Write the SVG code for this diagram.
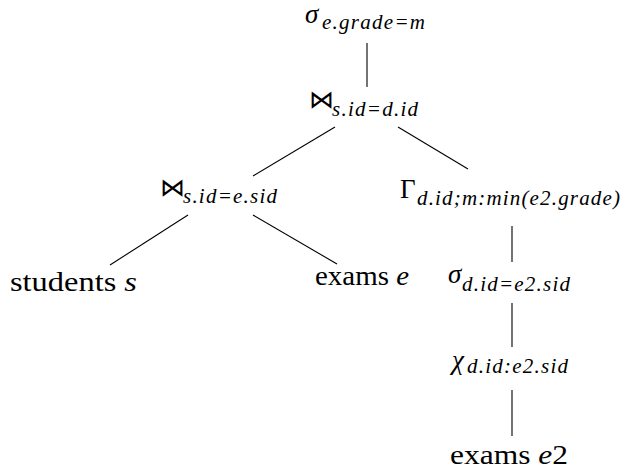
<svg xmlns="http://www.w3.org/2000/svg" width="626" height="473" viewBox="0 0 626 473">
<style>
text{font-family:"Liberation Serif","DejaVu Serif",serif;font-size:27px;fill:#000}
.i{font-style:italic}
.s{font-family:"Liberation Serif","DejaVu Serif",serif;font-style:italic;font-size:21px}
.b{font-family:"DejaVu Sans",sans-serif;font-weight:200;font-size:25px}
line{stroke:#000;stroke-width:1.1}
</style>
<rect width="626" height="473" fill="#fff"/>
<g id="connectors">
<line x1="367" y1="43" x2="367" y2="87"/>
<line x1="335" y1="127" x2="253" y2="176"/>
<line x1="398" y1="127" x2="468" y2="169"/>
<line x1="188" y1="215" x2="110" y2="265"/>
<line x1="253" y1="215" x2="337" y2="264"/>
<line x1="512" y1="226" x2="512" y2="262"/>
<line x1="512" y1="303" x2="512" y2="347"/>
<line x1="512" y1="390" x2="512" y2="436"/>
</g>
<g id="sel_top"><text x="305" y="23"><tspan class="i">σ</tspan><tspan class="s" x="322" y="29" textLength="103" lengthAdjust="spacing">e.grade=m</tspan></text></g>
<g id="join_top"><text x="309" y="108"><tspan class="b">⋈</tspan><tspan class="s" x="332" y="116" textLength="86" lengthAdjust="spacing">s.id=d.id</tspan></text></g>
<g id="join_left"><text x="160" y="196"><tspan class="b">⋈</tspan><tspan class="s" x="183" y="203" textLength="94" lengthAdjust="spacing">s.id=e.sid</tspan></text></g>
<g id="gamma"><text x="400" y="198"><tspan>Γ</tspan><tspan class="s" x="417" y="205" textLength="203" lengthAdjust="spacing">d.id;m:min(e2.grade)</tspan></text></g>
<g id="students"><text x="10" y="291" textLength="127" lengthAdjust="spacingAndGlyphs">students <tspan class="i">s</tspan></text></g>
<g id="exams_e"><text x="315" y="285" textLength="94" lengthAdjust="spacingAndGlyphs">exams <tspan class="i">e</tspan></text></g>
<g id="sel_d"><text x="448" y="283"><tspan class="i">σ</tspan><tspan class="s" x="462" y="291" textLength="108" lengthAdjust="spacing">d.id=e2.sid</tspan></text></g>
<g id="chi"><text x="452" y="369"><tspan class="i">χ</tspan><tspan class="s" x="467" y="373" textLength="101" lengthAdjust="spacing">d.id:e2.sid</tspan></text></g>
<g id="exams_e2"><text x="450" y="464" textLength="118" lengthAdjust="spacingAndGlyphs">exams <tspan class="i">e</tspan>2</text></g>
</svg>
